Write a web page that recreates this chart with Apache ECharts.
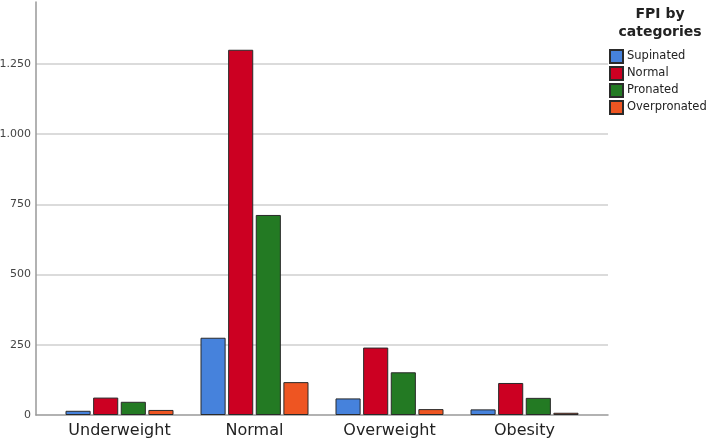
<!DOCTYPE html>
<html>
<head>
<meta charset="utf-8">
<script src="https://cdn.jsdelivr.net/npm/echarts@6/dist/echarts.min.js"></script>
<style>html,body{margin:0;padding:0;background:#fff}#c{width:714px;height:442px}</style>
</head>
<body>
<div id="c"></div>
<script>
var categories = ['Underweight', 'Normal', 'Overweight', 'Obesity'];
var supinated = [15, 275, 59, 20];
var normal = [62, 1300, 240, 114];
var pronated = [47, 712, 152, 61];
var overpronated = [18, 117, 21, 8];
var seriesNames = ['Supinated', 'Normal', 'Pronated', 'Overpronated'];
var yTicks = [0, 250, 500, 750, 1000, 1250];
var legendTitle = 'FPI by\ncategories';

var colors = ['#4682dc', '#cc0022', '#237a23', '#ee5522'];
var yMax = 1470;

function fmt(v) {
  var s = String(Math.round(v));
  return s.replace(/\B(?=(\d{3})+(?!\d))/g, '.');
}

var chart = echarts.init(document.getElementById('c'), null, {renderer: 'canvas'});
var dataSets = [supinated, normal, pronated, overpronated];
var series = dataSets.map(function (d, i) {
  return {
    name: seriesNames[i],
    type: 'bar',
    xAxisIndex: 1,
    yAxisIndex: 1,
    data: d,
    barGap: '10%',
    barCategoryGap: '20%',
    itemStyle: {color: colors[i], borderColor: '#2a2a2a', borderWidth: 1},
    emphasis: {disabled: true}
  };
});

chart.setOption({
  animation: false,
  color: colors,
  grid: [
    {left: 36, right: 106, top: 2, bottom: 27, containLabel: false, outerBoundsMode: 'none'},
    {left: 52, right: 122, top: 2, bottom: 27, containLabel: false, outerBoundsMode: 'none'}
  ],
  xAxis: [
    {gridIndex: 0, type: 'value', min: 0, max: 1,
     axisLine: {show: true, lineStyle: {color: '#999', width: 1.5}},
     axisTick: {show: false}, axisLabel: {show: false}, splitLine: {show: false}},
    {gridIndex: 1, type: 'category', data: categories,
     axisLine: {show: false}, axisTick: {show: false},
     axisLabel: {fontFamily: 'DejaVu Sans', fontSize: 16, color: '#222', margin: 8}}
  ],
  yAxis: [
    {gridIndex: 0, type: 'value', min: 0, max: yMax, interval: 250,
     axisLine: {show: true, lineStyle: {color: '#999', width: 1.5}},
     axisTick: {show: false},
     axisLabel: {fontFamily: 'DejaVu Sans', fontSize: 11, color: '#444', margin: 5,
       showMaxLabel: false,
       formatter: function (v) { return yTicks.indexOf(v) >= 0 ? fmt(v) : ''; }},
     splitLine: {show: true, showMinLine: false, showMaxLine: false,
       lineStyle: {color: '#cfcfcf', width: 1.5}}},
    {gridIndex: 1, type: 'value', min: 0, max: yMax, show: false, splitLine: {show: false}}
  ],
  legend: {
    orient: 'vertical',
    left: 609, top: 49, padding: 0,
    itemWidth: 13, itemHeight: 13, itemGap: 2,
    icon: 'rect',
    textStyle: {fontFamily: 'DejaVu Sans', fontSize: 11.5, color: '#222', lineHeight: 13, padding: [0, 0, 0, -1]},
    data: seriesNames
  },
  graphic: [{
    type: 'text', x: 660, y: 5,
    style: {text: legendTitle, align: 'center', verticalAlign: 'top',
      fontFamily: 'DejaVu Sans', fontSize: 14, fontWeight: 'bold', fill: '#222', lineHeight: 18}
  }],
  series: series
});
</script>
</body>
</html>
